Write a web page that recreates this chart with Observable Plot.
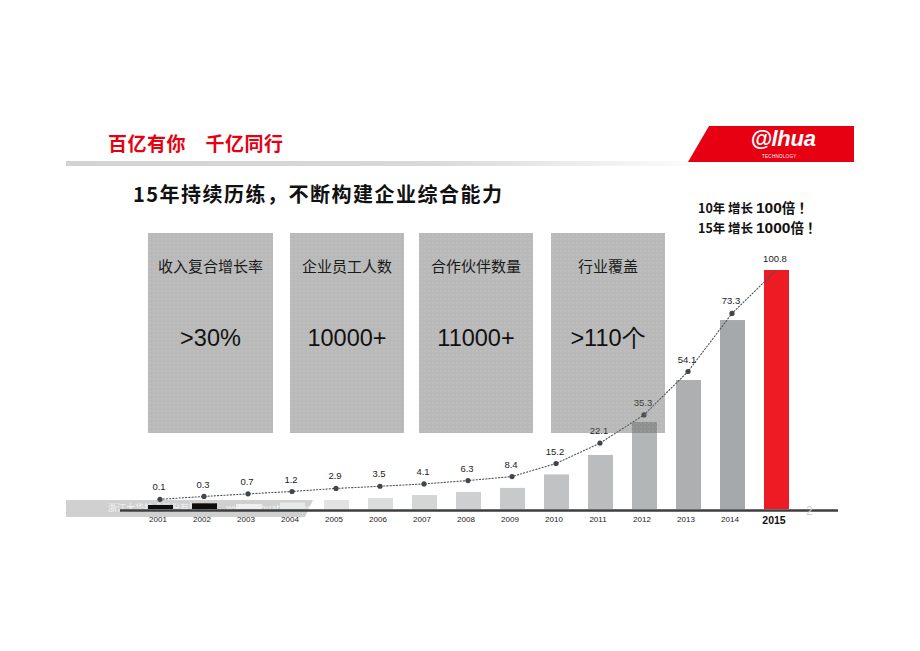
<!DOCTYPE html>
<html>
<head>
<meta charset="utf-8">
<script src="https://cdn.jsdelivr.net/npm/d3@7"></script>
<script src="https://cdn.jsdelivr.net/npm/@observablehq/plot@0.6"></script>
<style>
  html, body { margin: 0; padding: 0; background: #fff; }
  #page { position: relative; width: 920px; height: 651px; overflow: hidden; background: #fff;
          font-family: "Liberation Sans", Arial, sans-serif; }
  .abs { position: absolute; }
  .cjk { font-family: "Noto Sans CJK SC", "Noto Sans", sans-serif; }
  .panel { position: absolute; top: 233px; height: 200px; background-color: rgba(96,96,96,0.44);
           background-image: radial-gradient(circle, rgba(255,255,255,0.10) 0.6px, transparent 0.9px);
           background-size: 4px 4px; }
  .ptitle { position: absolute; left: 0; right: 0; top: 22px; text-align: center; font-size: 15px;
            color: #1a1a1a; font-family: "Noto Sans CJK SC", sans-serif; line-height: 22px; }
  .pvalue { position: absolute; left: 0; right: 0; top: 90px; text-align: center; font-size: 23.5px;
            color: #111; font-family: "Liberation Sans", Arial, sans-serif; line-height: 30px; }
</style>
</head>
<body>
<div id="page"></div>
<script>
// ---- data ----
const years = ["2001","2002","2003","2004","2005","2006","2007","2008","2009","2010","2011","2012","2013","2014","2015"];
const revenue = [0.1, 0.3, 0.7, 1.2, 2.9, 3.5, 4.1, 6.3, 8.4, 15.2, 22.1, 35.3, 54.1, 73.3, 100.8];
// drawn bar heights (in the same units)
const barLevel = [1.7, 2.4, 2.1, 2.7, 3.8, 4.6, 5.9, 7.2, 8.9, 14.6, 22.8, 36.7, 54.4, 79.7, 100.8];
// position of the dotted trend line markers
const trendLevel = [4.3, 5.5, 6.6, 7.6, 8.9, 9.8, 10.8, 12.2, 13.9, 19.4, 28.0, 39.9, 58.2, 82.7, 100.8];
const panelTitles = ["收入复合增长率", "企业员工人数", "合作伙伴数量", "行业覆盖"];
const panelValues = [">30%", "10000+", "11000+", ">110个"];
const headerText = "百亿有你　千亿同行";
const subtitleText = "15年持续历练，不断构建企业综合能力";

const data = years.map((y, i) => ({year: y, value: revenue[i], bar: barLevel[i], trend: trendLevel[i], i}));

const page = document.getElementById("page");
function el(tag, cls, css, html) {
  const e = document.createElement(tag);
  if (cls) e.className = cls;
  if (css) e.style.cssText = css;
  if (html != null) e.innerHTML = html;
  page.appendChild(e);
  return e;
}

// header
el("div", "abs cjk", "left:108px;top:129px;font-size:19px;font-weight:700;color:#e60012;line-height:28px;letter-spacing:0.5px;white-space:pre;", headerText);
el("div", "abs", "left:66px;top:161px;width:650px;height:5px;background:linear-gradient(to right,#d3d3d3 0%,#d8d8d8 55%,#ffffff 100%);");
el("div", "abs", "left:688px;top:126px;width:166px;height:36px;background:#e60012;clip-path:polygon(21px 0,166px 0,166px 36px,0 36px);");
el("div", "abs", "left:738px;top:127px;width:90px;text-align:center;font-size:22px;font-weight:700;font-style:italic;color:#fff;line-height:24px;letter-spacing:-0.3px;", "@lhua");
el("div", "abs", "left:762px;top:154px;font-size:4.5px;color:#fff;line-height:5px;letter-spacing:0.3px;", "TECHNOLOGY");

// subtitle
el("div", "abs cjk", "left:133px;top:180px;font-size:20px;font-weight:700;color:#111;line-height:28px;letter-spacing:1.5px;white-space:pre;", subtitleText);

// growth annotation
el("div", "abs cjk", "left:698px;top:197px;font-weight:700;color:#111;line-height:18px;white-space:pre;",
  '<span style="font-size:12.5px">10年 增长 </span><span style="font-size:15.5px;font-family:\'Liberation Sans\',Arial">100</span><span style="font-size:13.5px">倍 ！</span>');
el("div", "abs cjk", "left:698px;top:217px;font-weight:700;color:#111;line-height:18px;white-space:pre;",
  '<span style="font-size:12.5px">15年 增长 </span><span style="font-size:15.5px;font-family:\'Liberation Sans\',Arial">1000</span><span style="font-size:13.5px">倍 ！</span>');

// watermark band (behind chart)
el("div", "abs", "left:66px;top:500px;width:247px;height:17px;background:#d0d0d0;clip-path:polygon(0 0,247px 0,239px 17px,0 17px);");
el("div", "abs cjk", "left:108px;top:502px;font-size:9px;color:rgba(255,255,255,0.75);line-height:12px;white-space:pre;", "浙江大华技术股份有限公司     www.dahuatech.com");

// chart
const grey = d3.interpolateRgb("#efefef", "#a6a9ab");
const chart = Plot.plot({
  width: 920,
  height: 651,
  marginLeft: 120,
  marginRight: 82,
  marginTop: 270,
  marginBottom: 142,
  style: {background: "transparent", fontFamily: "Liberation Sans, Arial, sans-serif", overflow: "visible"},
  x: {type: "band", domain: years, paddingInner: 0.424, paddingOuter: 0.816, align: 0.36, axis: null},
  y: {domain: [0, 100.8], axis: null},
  marks: [
    Plot.barY(data, {
      x: "year", y: "bar",
      fill: d => d.year === "2015" ? "#ed1c24" : (d.i < 2 ? "#0d0d0d" : grey((d.i - 2) / 11))
    }),
    Plot.ruleY([0], {stroke: "#3b3e41", strokeWidth: 2.5, dy: 1}),
    Plot.line(data, {x: "year", y: "trend", stroke: "#4f5458", strokeWidth: 1.1, strokeDasharray: "1.2,2", dx: -1}),
    Plot.dot(data.filter(d => d.year !== "2015"), {x: "year", y: "trend", r: 2.6, fill: "#41464a", dx: -1}),
    Plot.text(data, {x: "year", y: "trend", text: d => String(d.value), dy: -12, dx: -2, fontSize: 9.5, fill: "#222"}),
    Plot.text(data.filter(d => d.year !== "2015"), {x: "year", y: () => 0, text: "year", dy: 10, dx: -3, fontSize: 8, fill: "#222"}),
    Plot.text(data.filter(d => d.year === "2015"), {x: "year", y: () => 0, text: "year", dy: 11, dx: -3, fontSize: 10.5, fontWeight: "bold", fill: "#111"})
  ]
});
chart.style.position = "absolute";
chart.style.left = "0px";
chart.style.top = "0px";
page.appendChild(chart);

// page number
el("div", "abs", "left:806px;top:504px;font-size:12px;color:#cfcfcf;line-height:14px;", "2");

// info panels (semi-transparent, over the chart)
const panelBoxes = [[148, 125], [290, 114], [419, 114], [551, 114]];
panelTitles.forEach((t, i) => {
  const p = el("div", "panel", `left:${panelBoxes[i][0]}px;width:${panelBoxes[i][1]}px;`);
  const a = document.createElement("div"); a.className = "ptitle"; a.textContent = t; p.appendChild(a);
  const b = document.createElement("div"); b.className = "pvalue"; b.textContent = panelValues[i]; p.appendChild(b);
});
</script>
</body>
</html>
